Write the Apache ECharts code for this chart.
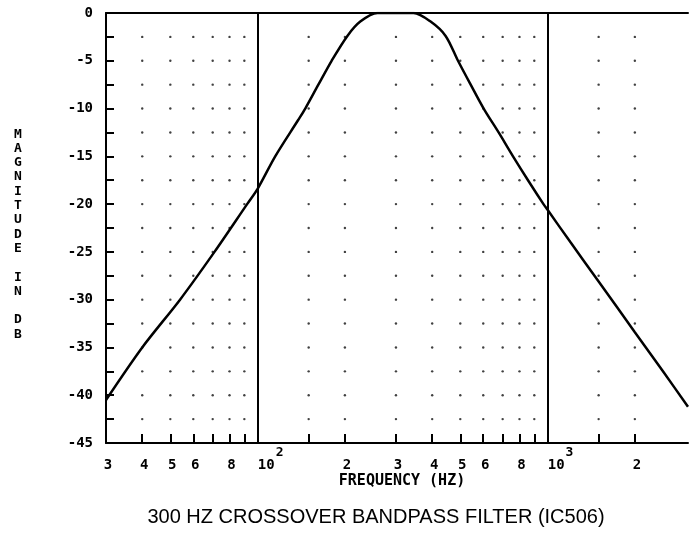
<!DOCTYPE html>
<html>
<head>
<meta charset="utf-8">
<script src="https://cdn.jsdelivr.net/npm/echarts@6/dist/echarts.min.js"></script>
<style>
  html, body { margin: 0; padding: 0; background: #fff; }
  #chart { width: 699px; height: 533px; }
</style>
</head>
<body>
<div id="chart"></div>
<script>
// ---- data ----
const freqHz = [30, 40, 54, 71, 92, 100, 115, 138, 146, 162, 180, 204, 226, 259, 300, 345, 395, 445, 491, 543, 602, 678, 760, 856, 968, 1000, 1200, 1500, 2000, 2500, 3050];
const magnitudeDb = [-40.5, -35, -30, -25, -20, -18.4, -15, -11.2, -10, -7.5, -5, -2.4, -0.9, 0, 0, 0, -0.9, -2.4, -5, -7.5, -10, -12.5, -15, -17.5, -20, -20.6, -24.0, -28.1, -33.4, -37.5, -41.2];

const xMin = 30, xMax = 3050;
const yMin = -45, yMax = 0;

const xTickValues = [40, 50, 60, 70, 80, 90, 100, 150, 200, 300, 400, 500, 600, 700, 800, 900, 1000, 1500, 2000];
const xLabelValues = [30, 40, 50, 60, 80, 100, 200, 300, 400, 500, 600, 800, 1000, 2000];
const xLabelTexts  = ['3', '4', '5', '6', '8', '10', '2', '3', '4', '5', '6', '8', '10', '2'];
const xLabelExps   = ['', '', '', '', '', '2', '', '', '', '', '', '', '3', ''];
const decadeLines = [100, 1000];

const dotFreqs = [40, 50, 60, 70, 80, 90, 150, 200, 300, 400, 500, 600, 700, 800, 900, 1500, 2000];
const dotLevels = [-2.5, -5, -7.5, -10, -12.5, -15, -17.5, -20, -22.5, -25, -27.5, -30, -32.5, -35, -37.5, -40, -42.5];

const titleText = '300 HZ CROSSOVER BANDPASS FILTER (IC506)';
const xNameText = 'FREQUENCY (HZ)';
const yNameText = 'M\nA\nG\nN\nI\nT\nU\nD\nE\n\nI\nN\n\nD\nB';

// ---- build ----
const curve = freqHz.map((f, i) => [f, magnitudeDb[i]]);
const dots = [];
dotFreqs.forEach(f => dotLevels.forEach(v => dots.push([f, v])));

const mono = '"DejaVu Sans Mono", "Liberation Mono", monospace';

const chart = echarts.init(document.getElementById('chart'), null, { renderer: 'canvas' });
chart.setOption({
  animation: false,
  backgroundColor: '#fff',
  grid: { left: 106, right: 11, top: 13, bottom: 90, containLabel: false },
  xAxis: [{
    type: 'log',
    logBase: 10,
    min: xMin,
    max: xMax,
    axisLine: { show: true, onZero: false, lineStyle: { color: '#000', width: 2 } },
    axisTick: { show: true, inside: true, length: 9, customValues: xTickValues, lineStyle: { color: '#000', width: 2 } },
    minorTick: { show: false },
    splitLine: { show: false },
    axisLabel: {
      show: true,
      margin: 14,
      customValues: xLabelValues,
      formatter: function (v) {
        const idx = xLabelValues.findIndex(x => Math.abs(x - v) < 1e-6 * x);
        if (idx < 0) return '';
        if (xLabelExps[idx]) {
          return '{p|' + xLabelTexts[idx] + '}{s|' + xLabelExps[idx] + '}';
        }
        return '{n|' + xLabelTexts[idx] + '}';
      },
      rich: {
        n: { fontFamily: mono, fontWeight: 'bold', fontSize: 14, color: '#000', lineHeight: 16, padding: [0, 0, 0, 4] },
        p: { fontFamily: mono, fontWeight: 'bold', fontSize: 14, color: '#000', lineHeight: 16, padding: [0, 0, 0, 26] },
        s: { fontFamily: mono, fontWeight: 'bold', fontSize: 13, color: '#000', lineHeight: 16, padding: [0, 0, 24, 1] }
      }
    }
  }, {
    type: 'log',
    logBase: 10,
    min: xMin,
    max: xMax,
    position: 'top',
    axisLine: { show: true, onZero: false, lineStyle: { color: '#000', width: 2 } },
    axisTick: { show: false },
    axisLabel: { show: false },
    splitLine: { show: false }
  }],
  yAxis: {
    type: 'value',
    min: yMin,
    max: yMax,
    interval: 5,
    axisLine: { show: true, onZero: false, lineStyle: { color: '#000', width: 2 } },
    axisTick: { show: true, inside: true, length: 8, lineStyle: { color: '#000', width: 2 } },
    minorTick: { show: true, splitNumber: 2, length: 8, lineStyle: { color: '#000', width: 2 } },
    splitLine: { show: false },
    axisLabel: {
      margin: 13,
      fontFamily: mono,
      fontWeight: 'bold',
      fontSize: 14,
      color: '#000'
    }
  },
  graphic: [
    { type: 'text', x: 18, y: 127, silent: true,
      style: { text: yNameText, textAlign: 'center', textVerticalAlign: 'top', font: 'bold 13px ' + mono, lineHeight: 14.3, fill: '#000' } },
    { type: 'text', x: 402, y: 481, silent: true,
      style: { text: xNameText, textAlign: 'center', textVerticalAlign: 'middle', font: 'bold 15px ' + mono, fill: '#000' } },
    { type: 'text', x: 376, y: 517, silent: true,
      style: { text: titleText, textAlign: 'center', textVerticalAlign: 'middle', font: '20px "Liberation Sans", Arial, sans-serif', fill: '#000' } }
  ],
  series: [{
    type: 'scatter',
    data: dots,
    symbol: 'circle',
    symbolSize: 2.4,
    itemStyle: { color: '#111' },
    silent: true,
    z: 1
  }, {
    type: 'line',
    data: curve,
    smooth: 0.3,
    showSymbol: false,
    symbol: 'none',
    clip: true,
    lineStyle: { color: '#000', width: 2.5 },
    silent: true,
    z: 3,
    markLine: {
      silent: true,
      symbol: ['none', 'none'],
      label: { show: false },
      lineStyle: { color: '#000', width: 2, type: 'solid' },
      data: decadeLines.map(v => ({ xAxis: v }))
    }
  }]
});
</script>
</body>
</html>
